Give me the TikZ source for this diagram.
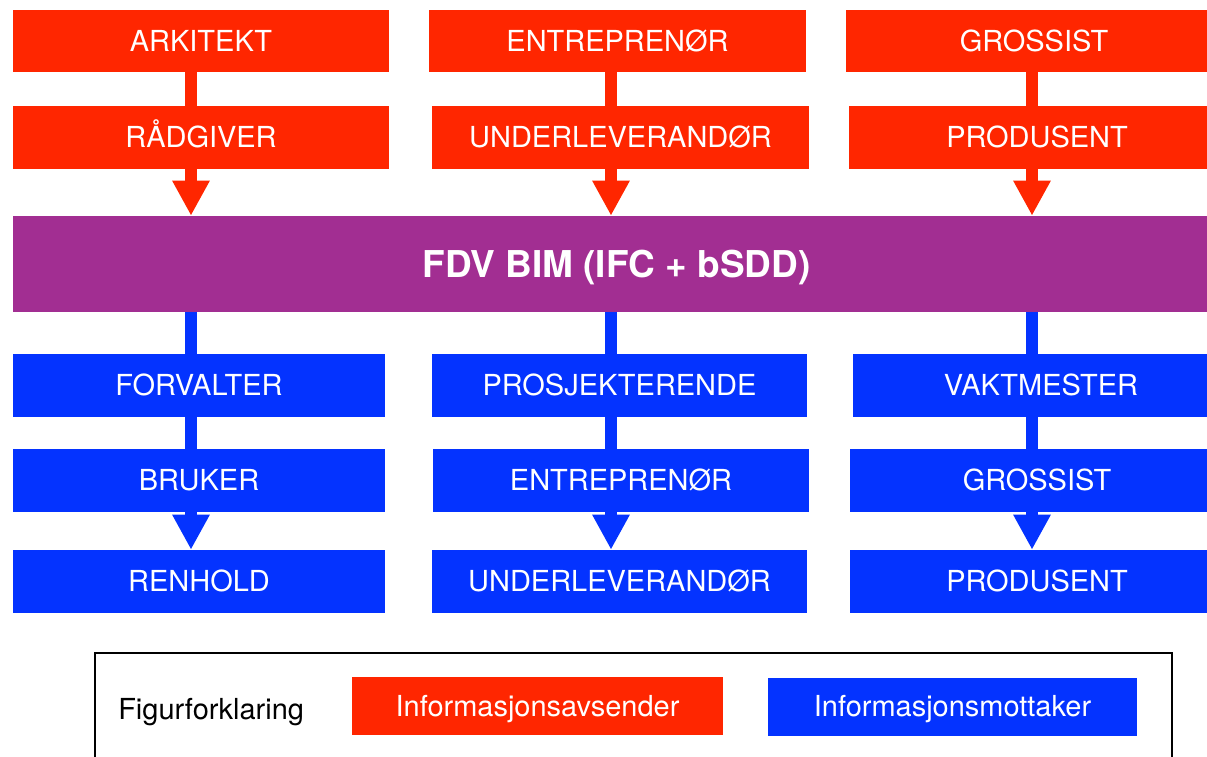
\documentclass[tikz,border=0pt]{standalone}
\usepackage{fontspec}
\setmainfont{TeX Gyre Heros}
\usetikzlibrary{arrows.meta}
\definecolor{sender}{HTML}{FF2600}
\definecolor{receiver}{HTML}{0433FF}
\definecolor{bimplum}{HTML}{A22E92}

\begin{document}
\begin{tikzpicture}[
		x=0.025cm, y=-0.025cm,
		every node/.style={rectangle, inner sep=0pt, text=white, text height=14.8pt, text depth=0pt,
			font=\fontsize{20.6}{24}\selectfont},
		avsender/.style={fill=sender, minimum width=9.4cm, minimum height=1.55cm},
		mottaker/.style={fill=receiver, minimum width=9.35cm, minimum height=1.575cm},
		flow/.style={line width=0.3cm},
		flowarrow/.style={flow, -{Triangle[width=0.875cm, length=0.875cm]}}
	]
  \useasboundingbox (0,0) rectangle (1207,756);
  \clip (0,0) rectangle (1207,756);
  % columns of the connectors
  \coordinate (k_1) at (191,0);
  \coordinate (k_2) at (611,0);
  \coordinate (k_3) at (1032,0);
  % senders
  \node (arkitekt) [avsender] at (201,41) {ARKITEKT};
  \node (radgiver) [avsender] at (201,137.5) {RÅDGIVER};
  \node (entr_s) [avsender] at (617.5,41) {ENTREPRENØR};
  \node (under_s) [avsender] at (620.5,137.5) {UNDERLEVERANDØR};
  \node (gross_s) [avsender] at (1034,41) {GROSSIST};
  \node (prod_s) [avsender] at (1037,137.5) {PRODUSENT};
  % model
  \node (fdv) [fill=bimplum, minimum width=30.175cm, minimum height=2.4cm, text height=18.9pt,
    font=\fontsize{26.3}{30}\selectfont\bfseries] at (616.5,264) {FDV BIM (IFC + bSDD)};
  % receivers
  \node (forvalter) [mottaker, minimum width=9.3cm] at (199,385.5) {FORVALTER};
  \node (bruker) [mottaker, minimum width=9.3cm] at (199,480.5) {BRUKER};
  \node (renhold) [mottaker, minimum width=9.3cm] at (199,581.5) {RENHOLD};
  \node (prosj) [mottaker] at (619.5,385.5) {PROSJEKTERENDE};
  \node (entr_m) [mottaker, minimum width=9.4cm] at (621,480.5) {ENTREPRENØR};
  \node (under_m) [mottaker] at (619.5,581.5) {UNDERLEVERANDØR};
  \node (vakt) [mottaker, minimum width=9.4cm] at (1041,385.5) {VAKTMESTER};
  \node (gross_m) [mottaker] at (1037,480.5) {GROSSIST};
  \node (prod_m) [mottaker] at (1037,581.5) {PRODUSENT};
  % connectors
  \draw [flow, sender] (k_1 |- arkitekt.south) -- (k_1 |- radgiver.north);
  \draw [flowarrow, sender] (k_1 |- radgiver.south) -- (k_1 |- fdv.north);
  \draw [flow, sender] (k_2 |- entr_s.south) -- (k_2 |- under_s.north);
  \draw [flowarrow, sender] (k_2 |- under_s.south) -- (k_2 |- fdv.north);
  \draw [flow, sender] (k_3 |- gross_s.south) -- (k_3 |- prod_s.north);
  \draw [flowarrow, sender] (k_3 |- prod_s.south) -- (k_3 |- fdv.north);
  \draw [flow, receiver] (k_1 |- fdv.south) -- (k_1 |- forvalter.north);
  \draw [flow, receiver] (k_1 |- forvalter.south) -- (k_1 |- bruker.north);
  \draw [flowarrow, receiver] (k_1 |- bruker.south) -- (k_1 |- renhold.north);
  \draw [flow, receiver] (k_2 |- fdv.south) -- (k_2 |- prosj.north);
  \draw [flow, receiver] (k_2 |- prosj.south) -- (k_2 |- entr_m.north);
  \draw [flowarrow, receiver] (k_2 |- entr_m.south) -- (k_2 |- under_m.north);
  \draw [flow, receiver] (k_3 |- fdv.south) -- (k_3 |- vakt.north);
  \draw [flow, receiver] (k_3 |- vakt.south) -- (k_3 |- gross_m.north);
  \draw [flowarrow, receiver] (k_3 |- gross_m.south) -- (k_3 |- prod_m.north);
  % legend
  \node (legend) [draw=black, line width=1.1pt, minimum width=26.925cm, minimum height=3.35cm] at (633.5,720) {};
  \node (fig_label) [anchor=west, text=black] at (118,709) {Figurforklaring};
  \node (leg_s) [fill=sender, minimum width=9.275cm, minimum height=1.45cm] at (537.5,706) {Informasjonsavsender};
  \node (leg_m) [fill=receiver, minimum width=9.225cm, minimum height=1.45cm] at (952.5,706.5) {Informasjonsmottaker};
\end{tikzpicture}
\end{document}
